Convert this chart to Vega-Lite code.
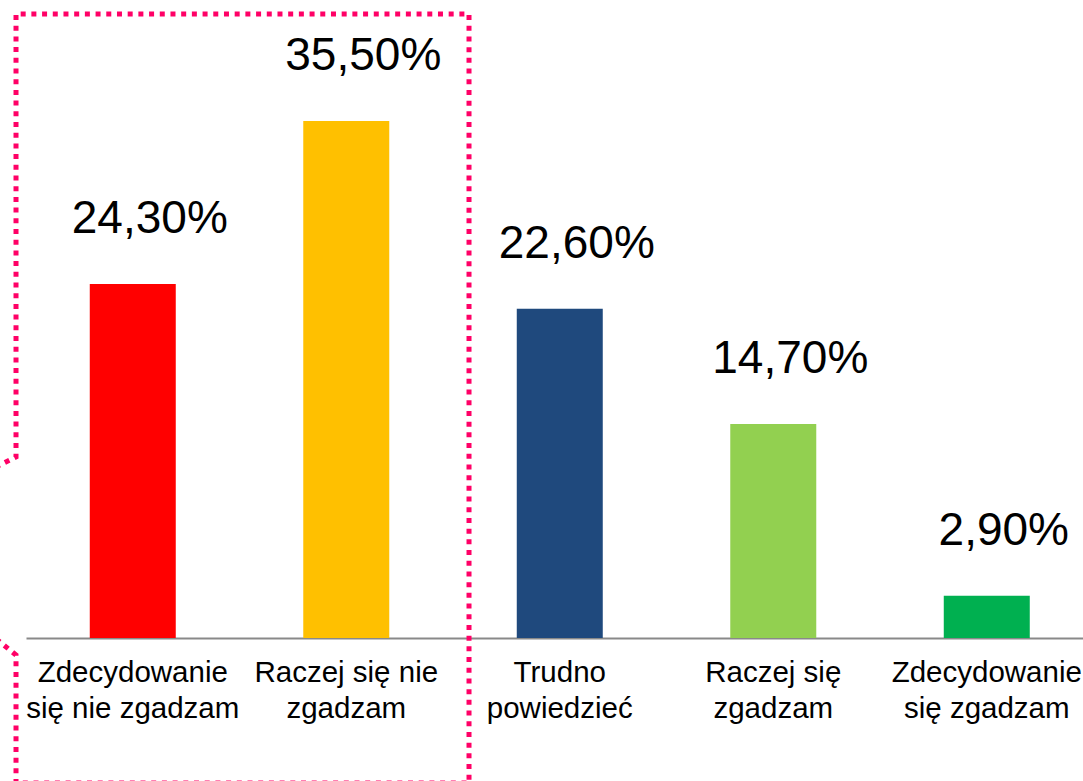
{
  "$schema": "https://vega.github.io/schema/vega-lite/v6.json",
  "width": 1057,
  "height": 638,
  "autosize": {"type": "none"},
  "padding": {"left": 26, "top": 0, "right": 0, "bottom": 143},
  "background": "white",
  "config": {
    "view": {"stroke": null},
    "locale": {"number": {"decimal": ",", "thousands": " ", "grouping": [3], "currency": ["", "%"]}}
  },
  "datasets": {
    "answers": [
      {"answer": "Zdecydowanie\nsię nie zgadzam", "share": 24.3},
      {"answer": "Raczej się nie\nzgadzam", "share": 35.5},
      {"answer": "Trudno\npowiedzieć", "share": 22.6},
      {"answer": "Raczej się\nzgadzam", "share": 14.7},
      {"answer": "Zdecydowanie\nsię zgadzam", "share": 2.9}
    ],
    "frame": [
      {"step": 1, "u": -0.1405, "pct": -0.05},
      {"step": 2, "u": -0.0468, "pct": -1.17},
      {"step": 3, "u": -0.0468, "pct": -9.95},
      {"step": 4, "u": 2.075, "pct": -9.95},
      {"step": 5, "u": 2.075, "pct": 42.84},
      {"step": 6, "u": -0.0468, "pct": 42.84},
      {"step": 7, "u": -0.0468, "pct": 12.43},
      {"step": 8, "u": -0.1405, "pct": 11.74}
    ]
  },
  "layer": [
    {
      "data": {"name": "answers"},
      "encoding": {
        "x": {
          "field": "answer",
          "type": "nominal",
          "sort": null,
          "scale": {"paddingInner": 0.5972, "paddingOuter": 0.274, "align": 0.545},
          "axis": {
            "title": null,
            "labelAngle": 0,
            "ticks": false,
            "labelExpr": "split(datum.value, '\\n')",
            "labelFont": "Liberation Sans",
            "labelFontSize": 29.5,
            "labelColor": "#000000",
            "labelPadding": 20,
            "labelLineHeight": 36,
            "labelBaseline": "top",
            "labelLimit": 0,
            "domainColor": "#898989",
            "domainWidth": 2
          }
        },
        "y": {
          "field": "share",
          "type": "quantitative",
          "scale": {"domain": [0, 43.8], "nice": false},
          "axis": null
        }
      },
      "layer": [
        {
          "mark": {"type": "bar"},
          "encoding": {
            "color": {
              "field": "answer",
              "type": "nominal",
              "sort": null,
              "scale": {
                "domain": ["Zdecydowanie\nsię nie zgadzam", "Raczej się nie\nzgadzam", "Trudno\npowiedzieć", "Raczej się\nzgadzam", "Zdecydowanie\nsię zgadzam"],
                "range": ["#FF0000", "#FFC000", "#1F497D", "#92D050", "#00B050"]
              },
              "legend": null
            }
          }
        },
        {
          "mark": {"type": "text", "font": "Liberation Sans", "fontSize": 46, "baseline": "alphabetic", "align": "center", "dy": -51, "dx": 17, "color": "#000000"},
          "encoding": {
            "text": {"field": "share", "type": "quantitative", "format": "$.2f"}
          }
        }
      ]
    },
    {
      "data": {"name": "frame"},
      "mark": {"type": "line", "color": "#FF0066", "strokeWidth": 5, "strokeDash": [5, 5.7], "strokeCap": "butt", "strokeJoin": "miter"},
      "encoding": {
        "x": {"field": "u", "type": "quantitative", "scale": {"domain": [0, 4.9508], "nice": false, "zero": false}, "axis": null},
        "y": {"field": "pct", "type": "quantitative", "scale": {"domain": [0, 43.8], "nice": false}, "axis": null},
        "order": {"field": "step", "type": "quantitative"}
      }
    }
  ],
  "resolve": {"scale": {"x": "independent"}, "axis": {"x": "independent"}}
}
